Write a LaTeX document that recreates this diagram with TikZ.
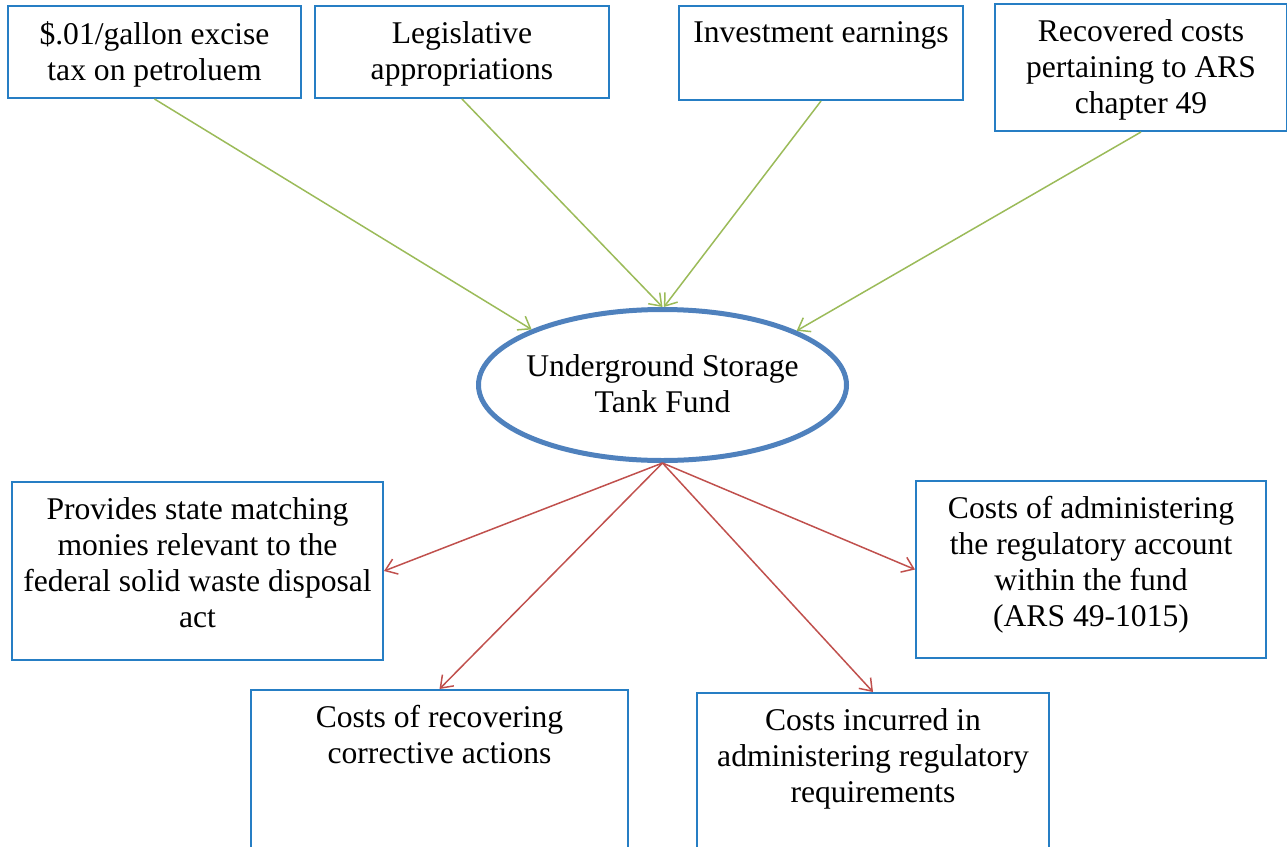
\documentclass[tikz,border=0pt]{standalone}
\usepackage{fontspec}
\setmainfont{Liberation Serif}
\usetikzlibrary{shapes.geometric,arrows.meta}
\definecolor{boxblue}{RGB}{38,126,196}
\definecolor{ellblue}{RGB}{79,129,189}
\definecolor{ingreen}{RGB}{155,187,89}
\definecolor{outred}{RGB}{192,80,77}
\tikzset{
  box/.style={draw=boxblue, line width=2pt, inner sep=0pt, anchor=north west},
  boxtext/.style={anchor=north, inner sep=0pt, align=center, font=\fontsize{31.6}{36}\selectfont},
  fund/.style={ellipse, draw=ellblue, line width=5pt, inner sep=0pt, minimum width=368pt, minimum height=151pt},
  fundtext/.style={inner sep=0pt, align=center, font=\fontsize{31.6}{36}\selectfont},
  inflow/.style={draw=ingreen, line width=1.5pt, -{Straight Barb[length=11pt,width=16pt]}},
  outflow/.style={draw=outred, line width=1.5pt, -{Straight Barb[length=11pt,width=16pt]}}
}
\begin{document}
\begin{tikzpicture}[x=1pt,y=-1pt]
\useasboundingbox (0,0) rectangle (1287,846);
% top boxes
\node[box, minimum width=293pt, minimum height=92pt] (b1) at (7,5) {};
\node[boxtext] (t1) at ([yshift=-16.5pt]b1.north) {\$.01/gallon excise\\tax on petroluem};
\node[box, minimum width=294pt, minimum height=92pt] (b2) at (314,5) {};
\node[boxtext] (t2) at ([yshift=-16.5pt]b2.north) {Legislative\\appropriations};
\node[box, minimum width=284pt, minimum height=94pt] (b3) at (678,5) {};
\node[boxtext] (t3) at ([yshift=-16.5pt]b3.north) {Investment earnings};
\node[box, minimum width=292pt, minimum height=127pt] (b4) at (994,3) {};
\node[boxtext] (t4) at ([yshift=-16.5pt]b4.north) {Recovered costs\\pertaining to ARS\\chapter 49};
% fund
\node[fund] (ell) at (662.5,385) {};
\node[fundtext] (tf) at ([yshift=1.5pt]ell.center) {Underground Storage\\Tank Fund};
% bottom boxes
\node[box, minimum width=371pt, minimum height=178pt] (lb) at (11,481) {};
\node[boxtext] (tl) at ([yshift=-16.5pt]lb.north) {Provides state matching\\monies relevant to the\\federal solid waste disposal\\act};
\node[box, minimum width=350pt, minimum height=177pt] (rb) at (915,480) {};
\node[boxtext] (tr) at ([yshift=-16.5pt]rb.north) {Costs of administering\\the regulatory account\\within the fund\\ (ARS 49-1015)};
\node[box, minimum width=377pt, minimum height=180pt] (bl) at (250,689) {};
\node[boxtext] (tbl) at ([yshift=-16.5pt]bl.north) {Costs of recovering\\corrective actions};
\node[box, minimum width=352pt, minimum height=180pt] (br) at (696,692) {};
\node[boxtext] (tbr) at ([yshift=-16.5pt]br.north) {Costs incurred in\\administering regulatory\\requirements};
% inflows
\draw[inflow] (b1.south) -- (ell.157.5);
\draw[inflow] (b2.south) -- (ell.90.5);
\draw[inflow] (b3.south) -- (ell.89.5);
\draw[inflow] (b4.south) -- (ell.22.5);
% outflows
\draw[outflow] (ell.south) -- (lb.east);
\draw[outflow] (ell.south) -- (bl.north);
\draw[outflow] (ell.south) -- (rb.west);
\draw[outflow] (ell.south) -- (br.north);
\end{tikzpicture}
\end{document}
